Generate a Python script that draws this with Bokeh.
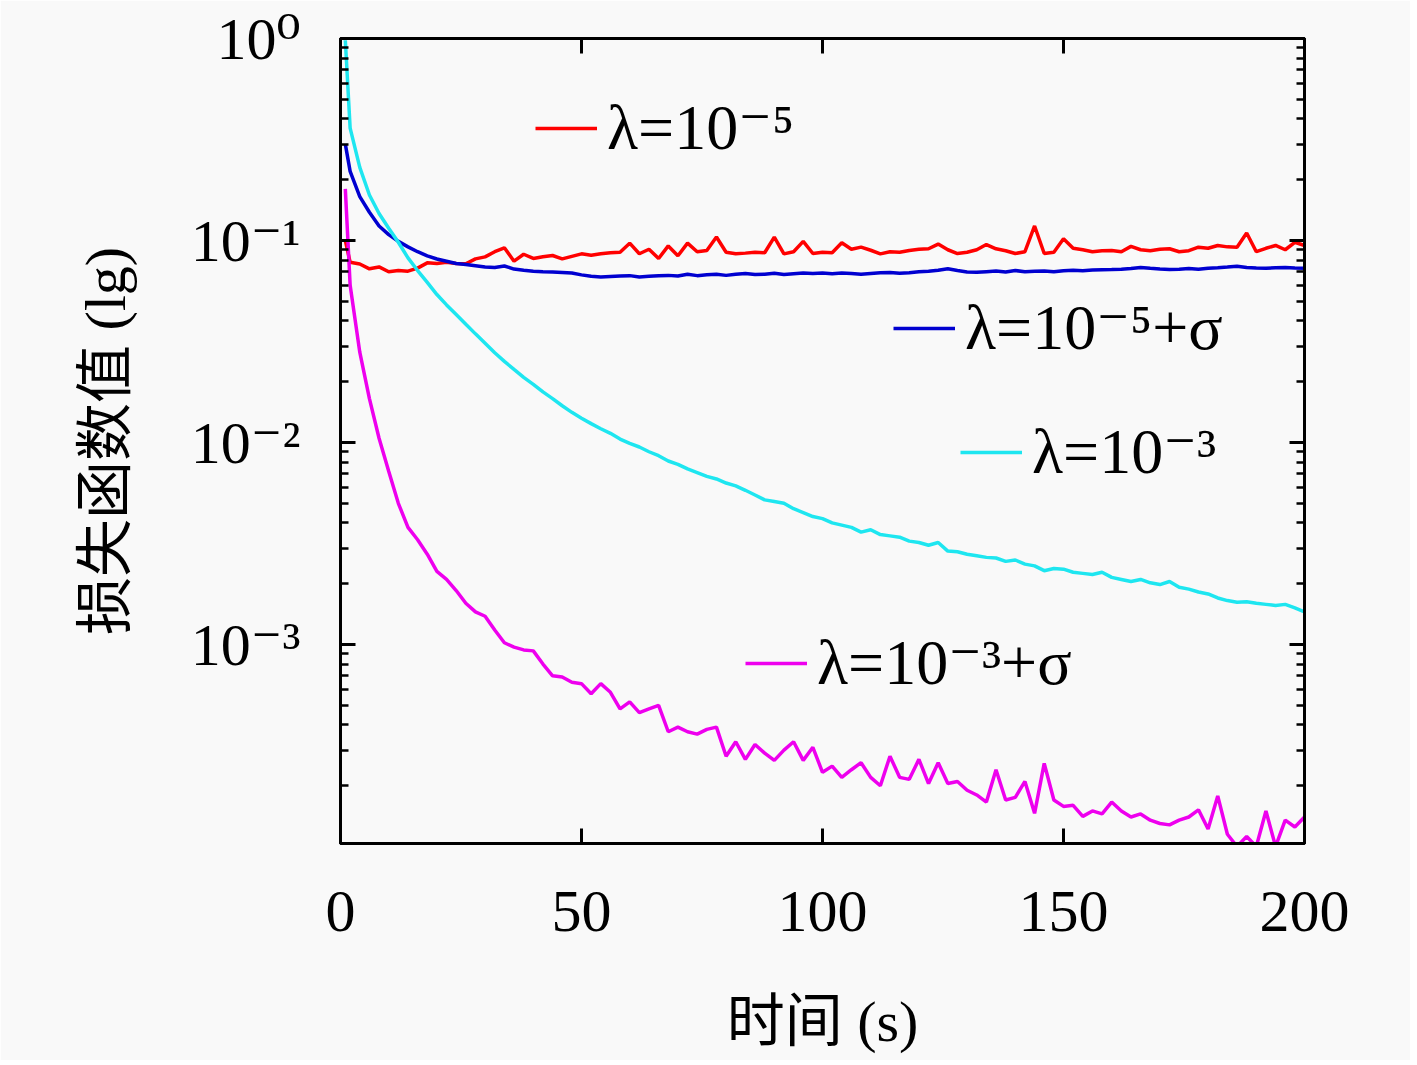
from bokeh.plotting import figure
from bokeh.models import (Range1d, LogAxis, LinearAxis, FixedTicker,
                          CustomJSTickFormatter, Legend, LegendItem)
from bokeh.embed import file_html
from bokeh.resources import INLINE

# ---------------- data ----------------
time_s = [1] + list(range(2, 201, 2))

loss_l5 = [0.100,
    0.078, 0.0765, 0.0724, 0.0740, 0.0700, 0.0711, 0.0705, 0.0730, 0.0775, 0.0770,
    0.0781, 0.0770, 0.0767, 0.0811, 0.0830, 0.0880, 0.0920, 0.0790, 0.0855, 0.0815,
    0.0830, 0.0843, 0.0811, 0.0835, 0.0859, 0.0845, 0.0859, 0.0870, 0.0875, 0.0970,
    0.0860, 0.0905, 0.0815, 0.0940, 0.0840, 0.0970, 0.0880, 0.0893, 0.1040, 0.0875,
    0.0859, 0.0866, 0.0875, 0.0870, 0.1040, 0.0859, 0.0880, 0.0990, 0.0862, 0.0875,
    0.0870, 0.0975, 0.0905, 0.0927, 0.0895, 0.0859, 0.0880, 0.0875, 0.0893, 0.0905,
    0.0910, 0.0960, 0.0900, 0.0862, 0.0875, 0.0900, 0.0955, 0.0910, 0.0890, 0.0862,
    0.0880, 0.1180, 0.0862, 0.0875, 0.1020, 0.0915, 0.0900, 0.0880, 0.0890, 0.0893,
    0.0880, 0.0935, 0.0900, 0.0890, 0.0905, 0.0910, 0.0880, 0.0890, 0.0927, 0.0915,
    0.0945, 0.0930, 0.0925, 0.1090, 0.0880, 0.0915, 0.0945, 0.0900, 0.0980, 0.0945]

loss_l5_sigma = [0.300,
    0.220, 0.165, 0.138, 0.118, 0.107, 0.099, 0.093, 0.088, 0.084, 0.081,
    0.079, 0.077, 0.076, 0.075, 0.074, 0.0735, 0.0748, 0.0722, 0.0712, 0.0705,
    0.0700, 0.0698, 0.0694, 0.0690, 0.0676, 0.0665, 0.0660, 0.0664, 0.0668, 0.0670,
    0.0660, 0.0665, 0.0670, 0.0672, 0.0667, 0.0680, 0.0670, 0.0676, 0.0681, 0.0672,
    0.0680, 0.0686, 0.0678, 0.0681, 0.0689, 0.0679, 0.0685, 0.0691, 0.0687, 0.0690,
    0.0685, 0.0690, 0.0686, 0.0680, 0.0686, 0.0692, 0.0695, 0.0688, 0.0693, 0.0700,
    0.0704, 0.0712, 0.0724, 0.0710, 0.0699, 0.0696, 0.0701, 0.0706, 0.0698, 0.0710,
    0.0701, 0.0704, 0.0707, 0.0700, 0.0709, 0.0713, 0.0709, 0.0714, 0.0717, 0.0718,
    0.0721, 0.0726, 0.0736, 0.0728, 0.0722, 0.0718, 0.0721, 0.0726, 0.0721, 0.0729,
    0.0733, 0.0739, 0.0746, 0.0735, 0.0731, 0.0728, 0.0733, 0.0736, 0.0731, 0.0728]

loss_l3 = [0.98,
    0.36, 0.23, 0.168, 0.136, 0.115, 0.098, 0.082, 0.071, 0.062, 0.054,
    0.048, 0.043, 0.0385, 0.0345, 0.031, 0.0278, 0.0252, 0.0230, 0.0210, 0.0194,
    0.0178, 0.0165, 0.0152, 0.0141, 0.0132, 0.0124, 0.0117, 0.0111, 0.0104, 0.0099,
    0.0095, 0.0090, 0.0086, 0.0081, 0.0078, 0.0074, 0.0071, 0.0068, 0.0066, 0.0063,
    0.0061, 0.0058, 0.0055, 0.0052, 0.0051, 0.0050, 0.0047, 0.0045, 0.0043, 0.0042,
    0.0040, 0.0039, 0.0038, 0.0036, 0.0037, 0.0035, 0.00345, 0.0034, 0.00325, 0.0032,
    0.0031, 0.0032, 0.0029, 0.00288, 0.0028, 0.00275, 0.0027, 0.00268, 0.00258, 0.00262,
    0.0025, 0.00245, 0.00232, 0.00238, 0.00236, 0.00228, 0.00225, 0.00222, 0.00228, 0.00215,
    0.0021, 0.00205, 0.0021, 0.00202, 0.00198, 0.00205, 0.00192, 0.00188, 0.00182, 0.00178,
    0.0017, 0.00165, 0.00162, 0.00163, 0.0016, 0.00158, 0.00156, 0.00158, 0.00152, 0.00145]

loss_l3_sigma = [0.18,
    0.060, 0.028, 0.0165, 0.0105, 0.0072, 0.0050, 0.0038, 0.0033, 0.0028, 0.0023,
    0.0021, 0.00185, 0.0016, 0.00145, 0.00138, 0.00118, 0.00102, 0.00097, 0.00094, 0.00093,
    0.00080, 0.00070, 0.00069, 0.00065, 0.00064, 0.00057, 0.00064, 0.00058, 0.00048, 0.00052,
    0.00046, 0.00048, 0.00050, 0.00037, 0.00039, 0.00037, 0.00036, 0.00038, 0.00039, 0.00028,
    0.00033, 0.00027, 0.00032, 0.00029, 0.000267, 0.00030, 0.00033, 0.000267, 0.00031, 0.000233,
    0.00025, 0.00022, 0.00024, 0.00026, 0.00022, 0.00020, 0.00028, 0.00022, 0.000215, 0.00027,
    0.000205, 0.00026, 0.000205, 0.00021, 0.00019, 0.00018, 0.000166, 0.00024, 0.00017, 0.000175,
    0.00021, 0.000146, 0.000258, 0.00017, 0.000158, 0.00016, 0.000141, 0.00015, 0.000145, 0.000166,
    0.00015, 0.00014, 0.000145, 0.000135, 0.00013, 0.000128, 0.000135, 0.00014, 0.000152, 0.000122,
    0.000178, 0.000115, 0.0001, 0.000112, 0.0001, 0.00015, 0.0001, 0.000135, 0.000125, 0.00014]

series_labels = ["λ=10⁻⁵", "λ=10⁻⁵+σ", "λ=10⁻³", "λ=10⁻³+σ"]
x_ticks = [0, 50, 100, 150, 200]
y_ticks = [1e-3, 1e-2, 1e-1, 1.0]
y_tick_labels = ["10⁻³", "10⁻²", "10⁻¹", "10⁰"]
y_minor_ticks = [m * 10.0 ** k for k in (-4, -3, -2, -1) for m in range(2, 10)]
x_label = "时间 (s)"
y_label = "损失函数值 (lg)"

# ---------------- styling ----------------
BG = "#f9f9f9"
SERIF = "'Liberation Serif', 'DejaVu Serif', serif"
MIXED = "'Liberation Serif', 'Noto Sans CJK SC', serif"
colors = ["#ff0000", "#0000d0", "#1ee6f0", "#ee00ee"]

p = figure(width=1410, height=1060,
           x_range=Range1d(0, 200), y_range=Range1d(1.035e-4, 1.0),
           y_axis_type="log", output_backend="svg", toolbar_location=None,
           min_border_left=340, min_border_right=106,
           min_border_top=38, min_border_bottom=217,
           background_fill_color=BG, border_fill_color=BG)
p.grid.visible = False
p.outline_line_color = "black"
p.outline_line_width = 3

y_ticker = FixedTicker(ticks=y_ticks, minor_ticks=y_minor_ticks)
x_ticker = FixedTicker(ticks=x_ticks, minor_ticks=[])

y_fmt = CustomJSTickFormatter(args=dict(tvals=y_ticks, tlabs=y_tick_labels), code="""
let best = 0, bd = 1e9;
for (let i = 0; i < tvals.length; i++) {
  const d = Math.abs(Math.log10(tick) - Math.log10(tvals[i]));
  if (d < bd) { bd = d; best = i; }
}
return tlabs[best];
""")
blank_fmt = CustomJSTickFormatter(code="return ' ';")


def style_axis(ax):
    ax.axis_line_width = 3
    ax.axis_line_color = "black"
    ax.major_tick_in = 15
    ax.major_tick_out = 0
    ax.major_tick_line_width = 3
    ax.minor_tick_in = 8
    ax.minor_tick_out = 0
    ax.minor_tick_line_width = 2.5
    ax.major_label_text_font = SERIF
    ax.major_label_text_font_size = "60px"
    ax.major_label_text_color = "black"
    ax.axis_label_text_font = MIXED
    ax.axis_label_text_font_size = "58px"
    ax.axis_label_text_font_style = "normal"
    ax.axis_label_text_color = "black"


# left
ly = p.yaxis[0]
ly.ticker = y_ticker
ly.formatter = y_fmt
style_axis(ly)
ly.major_label_standoff = 40
ly.axis_label = y_label
ly.axis_label_standoff = 50

# bottom
bx = p.xaxis[0]
bx.ticker = x_ticker
style_axis(bx)
bx.major_label_standoff = 48
bx.axis_label = x_label
bx.axis_label_standoff = 55

# right & top (ticks only)
ry = LogAxis(ticker=y_ticker, formatter=blank_fmt)
style_axis(ry)
ry.major_label_text_font_size = "4px"
ry.major_label_text_color = None
ry.major_label_standoff = 0
p.add_layout(ry, "right")

tx = LinearAxis(ticker=x_ticker, formatter=blank_fmt)
style_axis(tx)
tx.major_label_text_font_size = "4px"
tx.major_label_text_color = None
tx.major_label_standoff = 0
p.add_layout(tx, "above")

# ---------------- lines ----------------
all_series = [loss_l5, loss_l5_sigma, loss_l3, loss_l3_sigma]
renderers = []
for ys, col in zip(all_series, colors):
    r = p.line(time_s, ys, line_color=col, line_width=3.5)
    renderers.append(r)

# ---------------- legends (one per series, placed individually) ----------------
legend_locs = [(195, 678), (553, 478), (620, 354), (405, 143)]
for r, lab, loc in zip(renderers, series_labels, legend_locs):
    leg = Legend(items=[LegendItem(label=lab, renderers=[r])], location=loc,
                 background_fill_alpha=0, border_line_alpha=0,
                 label_text_font=SERIF, label_text_font_size="64px",
                 label_text_color="black",
                 glyph_width=62, glyph_height=40, label_height=64,
                 label_standoff=10, padding=0, margin=0, spacing=0)
    p.add_layout(leg)

open("out.html", "w").write(file_html(p, INLINE))
